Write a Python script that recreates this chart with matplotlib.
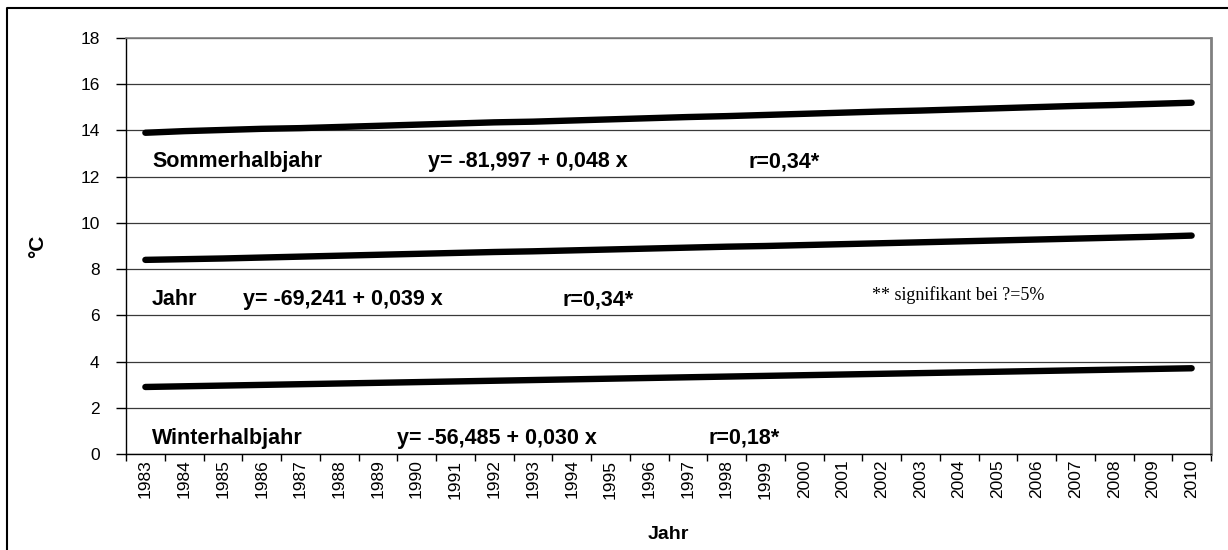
import matplotlib
matplotlib.use("Agg")
import matplotlib.pyplot as plt
from matplotlib.lines import Line2D
import matplotlib.transforms as mtransforms

years = [str(y) for y in range(1983, 2011)]
sommer = [13.90, 13.97, 14.02, 14.07, 14.10, 14.15, 14.20, 14.25, 14.30, 14.35,
          14.38, 14.43, 14.48, 14.53, 14.58, 14.62, 14.67, 14.72, 14.77, 14.82,
          14.86, 14.91, 14.96, 15.01, 15.06, 15.10, 15.15, 15.20]
jahr = [8.40, 8.43, 8.46, 8.50, 8.54, 8.58, 8.62, 8.66, 8.70, 8.74,
        8.77, 8.81, 8.85, 8.89, 8.93, 8.97, 9.00, 9.04, 9.08, 9.12,
        9.16, 9.20, 9.24, 9.28, 9.32, 9.36, 9.40, 9.45]
winter = [2.90, 2.93, 2.96, 2.99, 3.02, 3.05, 3.08, 3.11, 3.14, 3.17,
          3.20, 3.23, 3.26, 3.29, 3.32, 3.35, 3.38, 3.41, 3.44, 3.47,
          3.50, 3.53, 3.56, 3.59, 3.62, 3.65, 3.68, 3.71]
yticks = [0, 2, 4, 6, 8, 10, 12, 14, 16, 18]

W, H = 1228, 550
fig = plt.figure(figsize=(W / 100, H / 100), dpi=100)
plt.rcParams['font.family'] = ['Liberation Sans', 'DejaVu Sans']

ax = fig.add_axes([126 / W, 1 - 454 / H, (1211 - 126) / W, (454 - 38) / H])

x = list(range(len(years)))
for s in (sommer, jahr, winter):
    ax.plot(x, s, color='black', lw=4.6, solid_capstyle='round', zorder=3)

ax.set_xlim(-0.5, len(years) - 0.5)
ax.set_ylim(0, 18)
ax.set_yticks(yticks)
ax.set_yticklabels([str(v) for v in yticks], fontsize=12.5)
ax.yaxis.grid(True, color='#3a3a3a', lw=0.9)
ax.set_axisbelow(True)

ax.set_xticks([i - 0.5 for i in range(len(years) + 1)])
ax.set_xticklabels([])
ax.set_xticks(x, minor=True)
ax.set_xticklabels(years, minor=True, rotation=90, fontsize=12.5, va='top')
ax.tick_params(axis='x', which='major', length=5, width=1, color='black', direction='out')
ax.tick_params(axis='x', which='minor', length=0, pad=4)
ax.tick_params(axis='y', length=7, width=1, pad=12)

for side in ('left', 'bottom'):
    ax.spines[side].set_color('black')
    ax.spines[side].set_linewidth(1)
ax.spines['top'].set_color('#808080')
ax.spines['top'].set_linewidth(1.2)
ax.spines['right'].set_color('#808080')
ax.spines['right'].set_linewidth(2)

ax.set_ylabel('°C', fontsize=15, fontweight='bold', labelpad=24)
ax.set_xlabel('Jahr', fontsize=14, fontweight='bold', labelpad=20)

trans = mtransforms.blended_transform_factory(ax.transAxes, ax.transData)

def fx(px):
    return (px - 126) / (1211 - 126)

bold = dict(fontsize=15.5, fontweight='bold', va='center', ha='left', transform=trans)
ax.text(fx(152), 12.65, 'Sommerhalbjahr', **bold)
ax.text(fx(428), 12.65, 'y= -81,997 + 0,048 x', **bold)
ax.text(fx(748), 12.65, 'r=0,34*', **bold)

ax.text(fx(152), 6.67, 'Jahr', **bold)
ax.text(fx(243), 6.67, 'y= -69,241 + 0,039 x', **bold)
ax.text(fx(562), 6.67, 'r=0,34*', **bold)

ax.text(fx(152), 0.69, 'Winterhalbjahr', **bold)
ax.text(fx(397), 0.69, 'y= -56,485 + 0,030 x', **bold)
ax.text(fx(708), 0.69, 'r=0,18*', **bold)

ax.text(fx(872), 6.88, '** signifikant bei ?=5%', fontsize=13,
        family=['Liberation Serif', 'DejaVu Serif'], va='center', ha='left', transform=trans)

# outer frame (clipped at right and bottom)
fig.add_artist(Line2D([7 / W, 7 / W, 1.0], [0.0, 1 - 8 / H, 1 - 8 / H],
                      transform=fig.transFigure, color='black', lw=1.5))

fig.savefig('out.png', dpi=100)
